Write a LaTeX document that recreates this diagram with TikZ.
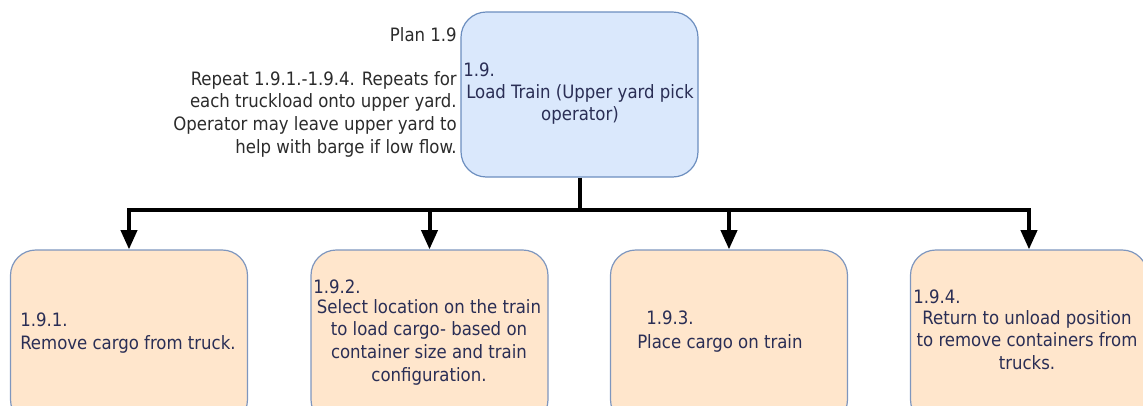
\documentclass[tikz,border=0pt]{standalone}
\usepackage{fontspec}
\setmainfont{DejaVu Sans Condensed}
\usetikzlibrary{arrows.meta}
\definecolor{topfill}{HTML}{DAE8FC}
\definecolor{topdraw}{HTML}{6C8EBF}
\definecolor{botfill}{HTML}{FFE6CC}
\definecolor{botdraw}{HTML}{7E96BE}
\definecolor{boxtext}{HTML}{2A2E55}
\definecolor{notetext}{HTML}{2B2B2B}
\begin{document}
\begin{tikzpicture}[x=0.75pt,y=-0.75pt,
  box/.style={rounded corners=19pt,line width=0.9pt,inner sep=0pt,
    minimum width=237*0.75pt},
  topbox/.style={box,fill=topfill,draw=topdraw,minimum height=165*0.75pt},
  botbox/.style={box,fill=botfill,draw=botdraw,minimum height=175*0.75pt},
  txt/.style={font=\fontsize{13.8pt}{17pt}\selectfont,inner sep=0pt,text=boxtext},
  note/.style={txt,text=notetext,align=right,anchor=base east},
  conn/.style={line width=3pt,draw=black},
  arr/.style={conn,-{Triangle[length=14.5pt,width=12pt]}}
]
\clip (0,0) rectangle (1143,405);
\useasboundingbox (0,0) rectangle (1143,405);

\node[topbox] (top) at (579.5,94.5) {};
\node[botbox] (b1) at (129,337.5) {};
\node[botbox] (b2) at (429.5,337.5) {};
\node[botbox] (b3) at (729,337.5) {};
\node[botbox] (b4) at (1029,337.5) {};

% connectors
\coordinate (bus) at (579.5,210);
\draw[conn] (top.south) -- (bus);
\draw[arr] (bus) -| (b1.north);
\draw[arr] (bus) -| (b2.north);
\draw[arr] (bus) -| (b3.north);
\draw[arr] (bus) -| (b4.north);

% plan note
\node[note] (plan) at (457,41) {Plan 1.9};
\node[note,anchor=north east] (rep) at (457,71) {Repeat 1.9.1.-1.9.4. Repeats for\\each truckload onto upper yard.\\Operator may leave upper yard to\\help with barge if low flow.};

% top box text
\node[txt,anchor=base west] (t0) at (463,76) {1.9.};
\node[txt,anchor=north,align=center] (t1) at (580,84) {Load Train (Upper yard pick\\operator)};

% box 1
\node[txt,anchor=base west] (n1) at (20,326) {1.9.1.};
\node[txt,anchor=base west] (d1) at (20,349) {Remove cargo from truck.};

% box 2
\node[txt,anchor=base west] (n2) at (313,293) {1.9.2.};
\node[txt,anchor=north,align=center] (d2) at (429,299) {Select location on the train\\to load cargo- based on\\container size and train\\configuration.};

% box 3
\node[txt,anchor=base west] (n3) at (646,324) {1.9.3.};
\node[txt,anchor=base west] (d3) at (637,348) {Place cargo on train};

% box 4
\node[txt,anchor=base west] (n4) at (913,303) {1.9.4.};
\node[txt,anchor=north,align=center] (d4) at (1027,310) {Return to unload position\\to remove containers from\\trucks.};
\end{tikzpicture}
\end{document}
